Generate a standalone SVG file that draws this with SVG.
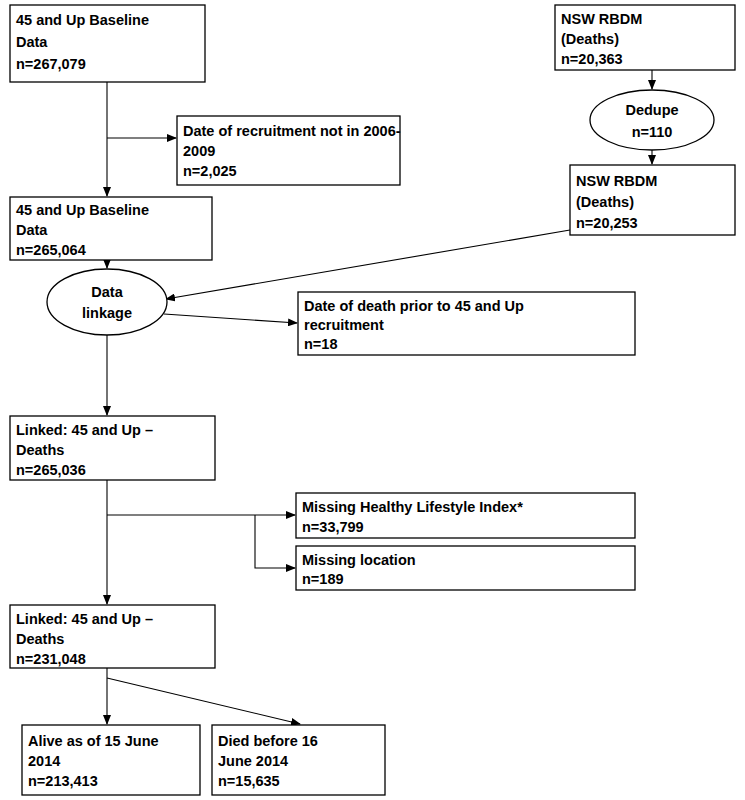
<svg xmlns="http://www.w3.org/2000/svg" width="745" height="800" viewBox="0 0 745 800">
<style>
.b{fill:#fff;stroke:#000;stroke-width:1.3}
text{font-family:"Liberation Sans",Arial,sans-serif;font-weight:bold;font-size:14.5px;fill:#000}
.c line,.c path{stroke:#000;stroke-width:1.1;fill:none}
</style>
<defs><marker id="a" markerWidth="10" markerHeight="8" refX="9" refY="4" orient="auto" markerUnits="userSpaceOnUse"><path d="M0,0L10,4L0,8z" fill="#000"/></marker></defs>
<rect width="745" height="800" fill="#fff"/>
<g class="c">
<line x1="107" y1="82" x2="107" y2="196" marker-end="url(#a)"/>
<line x1="107" y1="138" x2="176" y2="138" marker-end="url(#a)"/>
<line x1="652" y1="70" x2="652" y2="89" marker-end="url(#a)"/>
<line x1="652" y1="150" x2="652" y2="164" marker-end="url(#a)"/>
<line x1="107" y1="260" x2="107" y2="268" marker-end="url(#a)"/>
<line x1="570" y1="230" x2="166" y2="299" marker-end="url(#a)"/>
<line x1="164" y1="314" x2="297" y2="323" marker-end="url(#a)"/>
<line x1="107" y1="335" x2="107" y2="415" marker-end="url(#a)"/>
<line x1="107" y1="480" x2="107" y2="604" marker-end="url(#a)"/>
<line x1="107" y1="515" x2="295" y2="515" marker-end="url(#a)"/>
<path d="M255,515V568H295" marker-end="url(#a)"/>
<line x1="107" y1="668" x2="107" y2="724" marker-end="url(#a)"/>
<line x1="107" y1="678" x2="300" y2="724" marker-end="url(#a)"/>
</g>
<g id="n1"><rect class="b" x="10" y="5" width="195" height="77"/><text x="16" y="25">45 and Up Baseline</text><text x="16" y="47">Data</text><text x="16" y="69">n=267,079</text></g>
<g id="n2"><rect class="b" x="177" y="116" width="223" height="69"/><text x="183" y="136">Date of recruitment not in 2006-</text><text x="183" y="156">2009</text><text x="183" y="176">n=2,025</text></g>
<g id="n3"><rect class="b" x="555" y="5" width="180" height="65"/><text x="561" y="24">NSW RBDM</text><text x="561" y="44">(Deaths)</text><text x="561" y="64">n=20,363</text></g>
<g id="n4"><ellipse class="b" cx="652" cy="120" rx="62" ry="30"/><text x="652" y="115" text-anchor="middle">Dedupe</text><text x="652" y="137" text-anchor="middle">n=110</text></g>
<g id="n5"><rect class="b" x="570" y="165" width="165" height="70"/><text x="576" y="186">NSW RBDM</text><text x="576" y="207">(Deaths)</text><text x="576" y="228">n=20,253</text></g>
<g id="n6"><rect class="b" x="10" y="197" width="202" height="63"/><text x="16" y="215">45 and Up Baseline</text><text x="16" y="235">Data</text><text x="16" y="255">n=265,064</text></g>
<g id="n7"><ellipse class="b" cx="107" cy="302" rx="60" ry="33"/><text x="107" y="297" text-anchor="middle">Data</text><text x="107" y="318" text-anchor="middle">linkage</text></g>
<g id="n8"><rect class="b" x="298" y="292" width="337" height="63"/><text x="304" y="311">Date of death prior to 45 and Up</text><text x="304" y="330">recruitment</text><text x="304" y="349">n=18</text></g>
<g id="n9"><rect class="b" x="10" y="416" width="205" height="64"/><text x="16" y="435">Linked: 45 and Up –</text><text x="16" y="455">Deaths</text><text x="16" y="475">n=265,036</text></g>
<g id="n10"><rect class="b" x="296" y="493" width="339" height="45"/><text x="302" y="512">Missing Healthy Lifestyle Index*</text><text x="302" y="532">n=33,799</text></g>
<g id="n11"><rect class="b" x="296" y="546" width="339" height="44"/><text x="302" y="565">Missing location</text><text x="302" y="584">n=189</text></g>
<g id="n12"><rect class="b" x="10" y="605" width="205" height="63"/><text x="16" y="624">Linked: 45 and Up –</text><text x="16" y="644">Deaths</text><text x="16" y="664">n=231,048</text></g>
<g id="n13"><rect class="b" x="22" y="725" width="178" height="70"/><text x="28" y="746">Alive as of 15 June</text><text x="28" y="766">2014</text><text x="28" y="786">n=213,413</text></g>
<g id="n14"><rect class="b" x="212" y="725" width="173" height="70"/><text x="218" y="746">Died before 16</text><text x="218" y="766">June 2014</text><text x="218" y="786">n=15,635</text></g>
</svg>
